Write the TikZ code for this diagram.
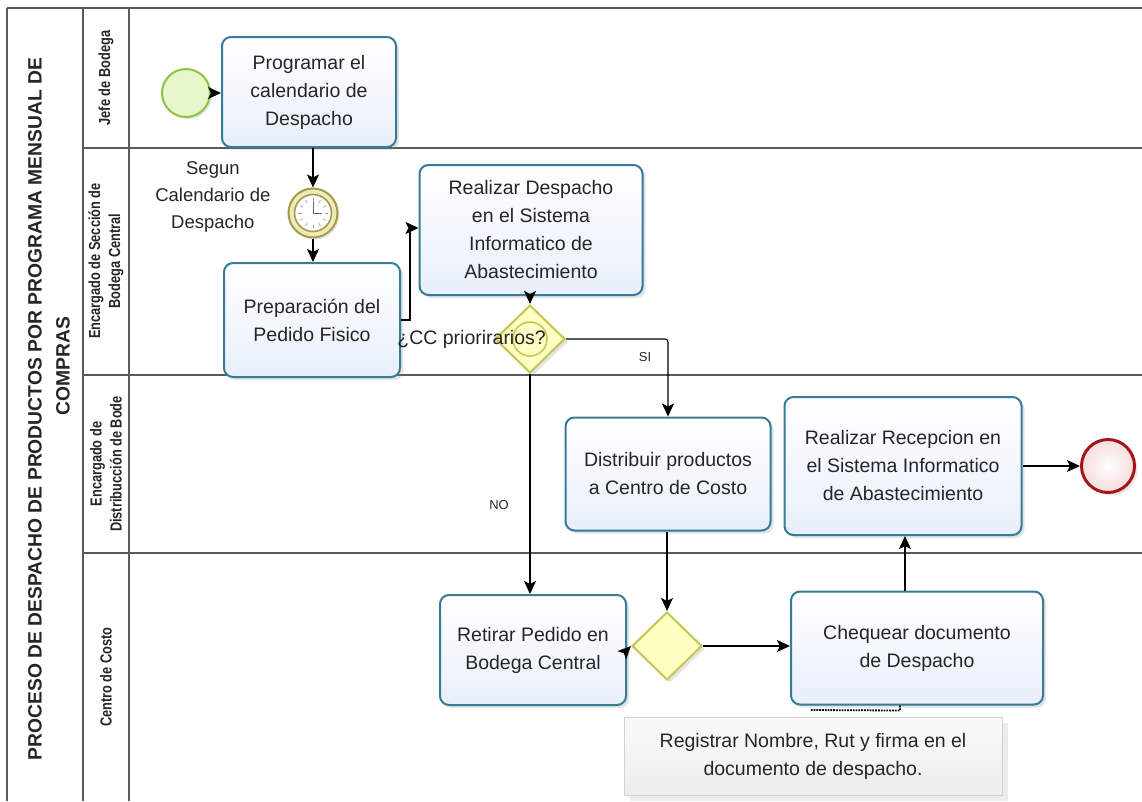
\documentclass[tikz,border=0pt]{standalone}
\usepackage{fontspec}
\setmainfont{Liberation Sans}
\newfontfamily\narrowfont[FakeStretch=0.8]{Liberation Sans}
\usetikzlibrary{shapes.geometric,arrows.meta,shadows}
\definecolor{laneline}{HTML}{5A5A5A}
\definecolor{taskborder}{HTML}{357C98}
\definecolor{taskfill}{HTML}{E8EFFB}
\definecolor{gwborder}{HTML}{C8C85A}
\definecolor{gwfill}{HTML}{FFFFC4}
\definecolor{startborder}{HTML}{8CC444}
\definecolor{startfill}{HTML}{E8F6CC}
\definecolor{endborder}{HTML}{A4161A}
\definecolor{endfill}{HTML}{F6DCDC}
\definecolor{timerborder}{HTML}{A39A4E}
\definecolor{timerfill}{HTML}{EEEBB8}
\definecolor{txt}{HTML}{262626}
\begin{document}
\begin{tikzpicture}[x=1pt,y=-1pt,
  lane/.style={draw=laneline, line width=1.6pt},
  task/.style={draw=taskborder, line width=2pt, rounded corners=9pt,
    top color=white, bottom color=taskfill, align=center, text=txt,
    font=\fontsize{19.5}{28}\selectfont, inner sep=0pt,
    drop shadow={shadow xshift=3pt, shadow yshift=-3pt, opacity=0.22}},
  gw/.style={diamond, draw=gwborder, fill=gwfill, line width=2.2pt, inner sep=0pt,
    minimum width=70pt, minimum height=68pt,
    drop shadow={shadow xshift=3pt, shadow yshift=-3pt, opacity=0.2}},
  flow/.style={-{Stealth[length=13pt,width=12pt,inset=3pt]}, line width=1.1pt, black},
  lbl/.style={font=\fontsize{18.5}{27}\selectfont, text=txt, align=center},
  small/.style={font=\fontsize{13}{15}\selectfont, text=txt},
  lanelbl/.style={rotate=90, font=\narrowfont\bfseries\fontsize{16}{20}\selectfont, align=center, text=txt},
  titlefont/.style={rotate=90, font=\bfseries\fontsize{19.3}{27}\selectfont, text=txt},
  assoc/.style={densely dotted, line width=1.8pt, black}
]
\useasboundingbox[fill=white] (0,0) rectangle (1142,801);
% frame
\draw[lane] (7,8) -- (1142,8);
\draw[lane] (7,8) -- (7,801);
\draw[lane] (83,8) -- (83,801);
\draw[lane] (129,8) -- (129,801);
\draw[lane] (83,148) -- (1142,148);
\draw[lane] (83,375) -- (1142,375);
\draw[lane] (83,553) -- (1142,553);
% titles
\node[titlefont] (title1) at (35,409) {PROCESO DE DESPACHO DE PRODUCTOS POR PROGRAMA MENSUAL DE};
\node[titlefont] (title2) at (63,366) {COMPRAS};
\node[lanelbl] (l1) at (106,78) {Jefe de Bodega};
\node[lanelbl] (l2) at (106,261) {Encargado de Secci\'on de\\Bodega Central};
\node[lanelbl] (l3) at (106,464) {Encargado de\\Distribucci\'on de Bode};
\node[lanelbl] (l4) at (106,677) {Centro de Costo};
% events
\node[circle, draw=startborder, fill=startfill, line width=2pt, minimum size=48pt, inner sep=0pt,
  drop shadow={shadow xshift=2pt, shadow yshift=-2pt, opacity=0.2}] (start) at (186,93) {};
\node[circle, draw=endborder, line width=3pt, inner color=white, outer color=endfill, minimum size=53pt, inner sep=0pt,
  drop shadow={shadow xshift=3pt, shadow yshift=-3pt, opacity=0.2}] (end) at (1108,466) {};
% timer
\node[circle, draw=timerborder, fill=timerfill, line width=2pt, minimum size=49pt, inner sep=0pt,
  drop shadow={shadow xshift=2pt, shadow yshift=-2pt, opacity=0.2}] (timer) at (313,213) {};
\node[circle, draw=timerborder, fill=white, line width=1.6pt, minimum size=37pt, inner sep=0pt] (clock) at (timer) {};
\foreach \a in {0,30,...,330} \draw[gray!70, line width=0.7pt] (timer.center) ++(\a:15) -- ++(\a:-3.5);
\draw[gray!80!black, line width=1pt] (timer.center) -- ++(0,-11) (timer.center) -- ++(9,0);
% tasks
\node[task, minimum width=174pt, minimum height=110pt] (t1) at (309,92) {Programar el\\calendario de\\Despacho};
\node[task, minimum width=176pt, minimum height=114pt] (t2) at (312,320) {Preparaci\'on del\\Pedido Fisico};
\node[task, minimum width=223pt, minimum height=130pt] (t3) at (531,230) {Realizar Despacho\\en el Sistema\\Informatico de\\Abastecimiento};
\node[task, minimum width=205pt, minimum height=113pt] (t4) at (668,474) {Distribuir productos\\a Centro de Costo};
\node[task, minimum width=186pt, minimum height=110pt] (t5) at (533,650) {Retirar Pedido en\\Bodega Central};
\node[task, minimum width=252pt, minimum height=113pt] (t6) at (917,648) {Chequear documento\\de Despacho};
\node[task, minimum width=237pt, minimum height=138pt] (t7) at (903,466) {Realizar Recepcion en\\el Sistema Informatico\\de Abastecimiento};
% gateways
\node[gw] (g1) at (530,339) {};
\node[circle, draw=gwborder, line width=1.6pt, minimum size=34pt, inner sep=0pt] (g1c) at (g1) {};
\node[gw] (g2) at (667,646) {};
% annotation
\node[draw=gray!35, line width=0.8pt, top color=gray!4, bottom color=gray!14, minimum width=378pt, minimum height=78pt,
  align=center, text=txt, font=\fontsize{19.5}{28}\selectfont,
  drop shadow={shadow xshift=6pt, shadow yshift=-6pt, opacity=0.15}] (ann) at (813,756)
  {Registrar Nombre, Rut y firma en el\\documento de despacho.};
% labels
\node[lbl, anchor=east] (seg) at (274,197) {Segun\\Calendario de\\Despacho};
\node[lbl, anchor=east, inner sep=0pt, font=\fontsize{19.5}{27}\selectfont] (cc) at (546,339) {¿CC priorirarios?};
\node[small] (si) at (645,357) {SI};
\node[small] (no) at (499,505) {NO};
% flows
\draw[flow] (start) -- (t1.west |- start);
\draw[flow] (t1.south -| timer) -- (timer.north);
\draw[flow] (timer.south) -- (timer.south |- t2.north);
\draw[flow] (t2.east) -- ++(9,0) |- (t3.west |- 0,228);
\draw[flow] (t3.south -| g1) -- (g1.north);
\draw[flow, rounded corners=3pt] (g1.east) -| (t4.north);
\draw[flow] (g1.south) -- (g1.south |- t5.north);
\draw[flow] (t4.south -| g2) -- (g2.north);
\draw[flow] (t5.east) -- (g2.west);
\draw[flow] (g2.east) -- (t6.west |- g2);
\coordinate (up) at (905,0);
\draw[flow] (t6.north -| up) -- (t7.south -| up);
\draw[flow] (t7.east) -- (end.west);
\coordinate (d1) at (810,710);
\draw[assoc] (t6.south -| 900,0) -- ++(0,5) -- (d1);
\end{tikzpicture}
\end{document}
